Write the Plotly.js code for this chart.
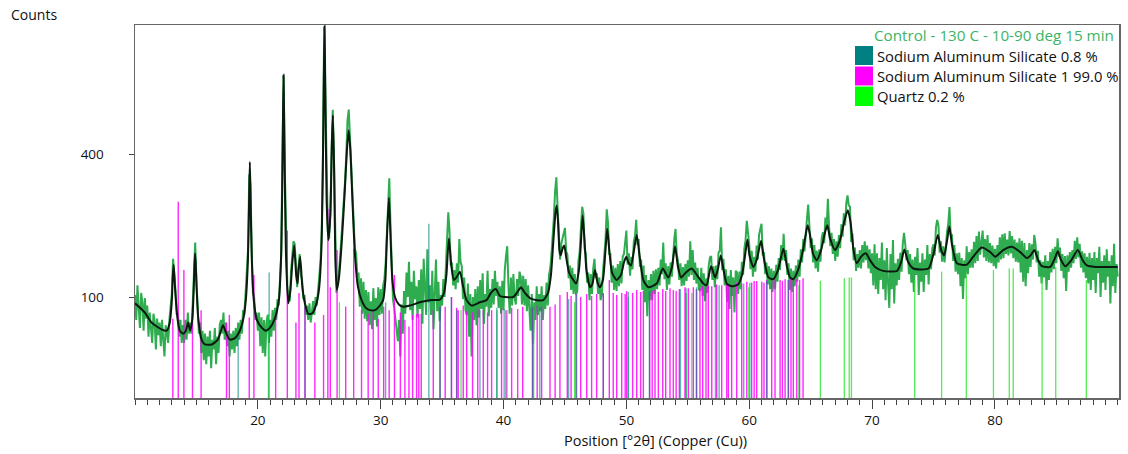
<!DOCTYPE html>
<html><head><meta charset="utf-8">
<script src="https://cdn.plot.ly/plotly-3.0.1.min.js"></script>
<style>html,body{margin:0;padding:0;background:#fff}#chart{width:1128px;height:454px}</style>
</head><body><div id="chart"></div>
<script>
// Observed scan: counts sampled every 0.1 deg from 10.0 to 90.0 deg 2theta
const obsStart = 10.0;
const obsStep = 0.1;
const obsCounts = [
102,80,112,86,74,104,95,72,99,81,
92,68,86,74,64,85,79,60,81,69,
78,62,80,66,56,76,70,64,80,92,
104,145,128,106,84,86,68,80,64,76,
64,80,66,86,70,78,70,92,124,170,
118,94,70,78,58,72,54,70,52,68,
56,72,50,66,60,74,52,68,58,76,
80,70,86,66,78,62,72,56,70,60,
72,58,74,62,78,66,80,70,88,84,
104,120,158,330,300,160,104,100,80,86,
72,86,62,82,58,80,56,78,84,64,
80,68,88,72,90,80,98,92,122,150,
400,860,340,160,112,100,96,128,150,172,
168,134,110,132,152,124,118,98,102,84,
92,80,94,78,90,96,84,100,92,110,
120,142,190,400,1380,640,270,188,176,232,
400,620,380,160,104,118,126,148,176,214,
260,310,400,560,620,470,350,270,200,160,
153,122,127,91,120,85,116,81,107,79,
105,76,96,73,109,80,99,75,110,84,
108,85,112,119,139,186,260,318,200,142,
98,90,82,74,65,80,56,93,70,106,
85,127,100,141,88,116,80,129,98,111,
82,118,89,131,77,145,100,84,159,95,
112,84,129,73,103,144,87,116,79,102,
92,119,100,135,156,228,191,136,140,112,
130,108,139,115,176,141,135,98,121,88,
84,114,68,103,56,100,80,108,76,111,
82,118,89,126,77,103,91,129,83,108,
90,119,93,129,101,116,90,111,85,117,
88,130,149,164,112,85,121,92,125,99,
93,119,101,128,122,93,123,92,119,87,
112,85,72,103,63,95,80,111,84,103,
87,111,80,102,89,115,92,124,132,151,
176,219,282,321,240,186,144,168,176,188,
196,156,151,120,136,107,133,103,125,102,
106,143,155,197,241,226,160,152,115,127,
97,125,103,132,145,120,126,103,121,97,
102,129,148,174,235,208,152,152,115,136,
107,133,106,138,111,142,114,148,152,167,
191,137,153,123,148,131,171,182,212,166,
176,134,144,107,136,95,124,83,118,97,
125,97,129,103,131,108,133,112,144,125,
170,119,139,107,135,113,140,122,158,176,
194,152,142,118,139,111,134,112,138,117,
143,122,172,124,158,118,140,114,133,108,
106,133,101,126,96,120,104,135,147,149,
118,135,110,136,119,154,157,197,130,145,
112,131,95,123,89,130,101,121,86,129,
127,103,128,108,141,124,160,174,210,182,
167,131,157,122,148,128,165,144,183,194,
204,150,155,125,140,113,135,108,132,105,
129,108,137,116,146,130,166,143,185,142,
158,124,139,107,132,105,129,111,136,116,
144,122,159,140,176,156,195,215,246,204,
161,177,140,166,132,157,128,159,141,178,
188,169,217,193,260,198,164,187,152,176,
142,172,148,183,161,203,180,226,201,249,
269,244,241,171,186,143,162,129,152,133,
158,132,166,140,172,143,165,132,159,126,
153,112,167,108,153,103,146,118,170,108,
143,97,161,115,90,152,108,174,94,139,
112,145,118,154,128,168,187,167,143,158,
125,152,115,144,105,148,124,161,102,140,
116,153,105,144,124,166,113,152,131,161,
167,150,197,212,201,154,172,141,164,140,
170,188,204,240,182,184,142,166,128,153,
125,154,111,146,98,143,120,164,125,155,
133,159,133,171,139,181,142,189,151,178,
191,147,176,142,183,140,169,139,165,135,
160,132,166,140,179,144,184,146,186,152,
175,150,190,153,181,146,175,141,170,140,
177,127,173,116,169,111,158,126,169,134,
167,144,183,169,140,157,122,143,114,141,
121,150,107,142,118,155,127,160,131,163,
139,177,148,162,129,152,120,149,106,150,
128,155,133,158,139,173,145,179,147,168,
133,156,127,153,120,148,114,154,107,146,
118,155,104,146,126,163,100,142,115,150,
107,159,122,142,94,150,111,168,104,138,
122
];

// Calculated (fitted) profile
const fitAngle = [10.00,10.80,11.34,12.16,12.57,12.83,13.00,13.07,13.14,13.21,13.27,13.46,13.65,13.92,14.14,14.32,14.49,14.67,14.79,14.84,14.89,14.95,15.01,15.15,15.42,15.68,16.25,16.74,16.99,17.17,17.39,17.72,18.13,18.53,18.82,19.02,19.19,19.29,19.35,19.41,19.51,19.67,19.92,20.33,20.65,20.98,21.38,21.71,21.91,22.02,22.09,22.17,22.28,22.47,22.65,22.81,22.96,23.12,23.23,23.30,23.44,23.62,23.83,24.10,24.40,24.72,24.97,25.17,25.29,25.37,25.43,25.50,25.60,25.74,25.90,26.03,26.11,26.21,26.31,26.43,26.60,26.84,27.08,27.25,27.39,27.53,27.70,27.90,28.14,28.44,28.79,29.12,29.53,29.93,30.20,30.38,30.50,30.67,30.81,30.95,31.16,31.48,31.83,32.38,33.19,34.00,34.82,35.15,35.35,35.55,35.76,35.96,36.21,36.45,36.69,36.99,37.40,38.08,38.62,38.97,39.36,39.71,40.11,40.79,41.13,41.42,41.74,42.15,42.72,43.23,43.62,43.86,44.06,44.23,44.32,44.43,44.55,44.65,44.80,44.94,45.12,45.33,45.55,45.90,46.14,46.31,46.44,46.59,46.75,47.04,47.24,47.44,47.65,47.85,48.09,48.30,48.44,48.61,48.83,49.21,49.56,49.80,49.99,50.17,50.37,50.62,50.84,51.07,51.38,51.78,52.47,52.96,53.41,53.71,53.96,54.20,54.45,54.85,55.32,55.83,56.26,56.52,56.89,57.22,57.46,57.68,57.91,58.17,58.58,59.09,59.41,59.66,59.85,60.02,60.33,60.63,60.96,61.20,61.56,61.96,62.34,62.78,63.08,63.32,63.59,63.97,64.38,64.63,64.76,64.95,65.20,65.50,65.85,66.17,66.36,66.58,66.99,67.39,67.72,68.02,68.25,68.49,68.75,69.10,69.49,69.84,70.24,70.90,72.04,72.37,72.63,72.93,73.36,74.59,74.97,75.35,75.62,75.86,76.11,76.29,76.51,76.90,77.71,78.23,78.93,79.61,80.02,80.67,81.38,82.05,82.60,82.91,83.22,83.52,83.82,84.50,84.86,85.12,85.39,85.72,86.21,86.75,87.14,87.49,88.16,90.00];
const fitCounts = [94,86,78,73,72,78,97,120,137,122,107,81,72,70,72,78,72,81,111,135,153,135,111,81,66,63,63,66,72,76,71,66,67,72,81,97,143,256,372,256,143,97,80,74,72,74,81,97,158,417,870,417,158,94,107,140,165,124,114,128,148,111,94,85,85,92,107,158,344,826,1400,680,256,174,220,460,587,344,143,107,120,174,283,417,507,417,256,152,111,97,90,88,88,92,97,118,174,263,174,118,100,93,91,92,95,97,97.5,104,124,177,134,118,122,128,112,97,92,95,97,104,108,101,100,100,105,110,104,99,97,97,104,124,174,228,244,211,158,150,160,165,145,127,121,114,130,174,221,174,130,110,114,130,115,110,118,158,195,158,127,118,124,140,148,140,136,158,183,150,118,110,114,132,121,134,164,134,121,127,132,122,114,112,135,121,132,150,130,114,111,113,124,150,175,150,134,145,173,145,121,119,130,160,134,121,119,130,158,188,201,183,152,143,158,188,201,177,158,174,207,233,207,158,139,148,153,143,134,129,129,141,159,141,132,132,150,183,158,150,174,199,166,139,137,148,162,155,148,158,163,155,146,150,158,143,135,134,145,156,143,135,143,158,143,136,134,134];

// Reference patterns (stick positions, deg 2theta, and displayed heights, counts)
const sasPos = [18.40,20.92,23.85,30.40,33.92,34.85,35.75,36.20,38.08,39.45,40.05,42.35,42.95,45.30,45.95,48.12,50.16,51.87,54.40,54.85,55.72,57.25,57.55,59.55,60.05,61.43,63.20];
const sasInt = [68,127,91,95,204,90,100,88,88,90,89,90,91,98,102,104,105,106,108,109,110,112,112,114,115,117,118];

const sas1Pos = [13.08,13.52,13.98,14.68,15.38,17.45,17.68,19.30,19.68,21.45,22.40,23.10,23.35,23.83,24.64,25.35,25.70,25.90,26.45,27.15,27.80,28.44,28.98,29.39,29.80,30.24,30.69,31.12,31.60,31.97,32.30,32.60,32.92,33.10,33.30,34.28,34.82,35.25,35.77,36.18,36.31,36.72,37.00,37.48,37.90,38.35,38.70,39.03,39.84,40.20,40.66,41.15,41.56,42.37,42.74,43.10,43.78,44.20,44.59,45.19,45.50,45.90,46.28,46.77,47.17,47.58,48.12,48.61,48.93,49.21,49.62,49.90,50.02,50.51,50.84,51.16,51.38,51.90,52.10,52.33,52.60,52.96,53.20,53.55,53.82,54.05,54.31,54.77,55.04,55.45,55.70,55.99,56.21,56.48,56.67,56.95,57.35,57.76,58.17,58.30,58.57,58.98,59.39,59.80,60.20,60.40,60.61,61.02,61.20,61.43,61.83,62.10,62.51,62.70,62.92,63.18,63.40,63.59,63.87,64.10,64.38];
const sas1Int = [81,253,130,91,88,78,84,82,124,85,191,78,104,91,78,84,236,110,158,91,160,88,85,88,81,91,88,124,86,80,75,84,85,85,85,88,91,91,100,90,88,92,87,86,89,88,86,88,90,88,90,89,91,90,92,91,91,93,102,105,101,103,100,103,101,103,104,118,104,102,104,103,106,104,107,105,106,104,106,107,105,108,106,109,107,106,108,110,109,110,108,109,111,110,112,111,113,112,114,112,113,115,114,116,115,117,117,116,115,118,117,119,118,117,119,118,120,120,119,118,120];

const qzPos = [20.86,26.64,36.54,39.47,40.29,42.45,45.79,50.14,54.87,55.33,59.96,64.04,65.79,67.74,68.14,68.32,73.47,75.66,77.67,79.88,81.17,81.49,83.84,84.95,87.44];
const qzInt = [85,95,88,88,88,88,95,100,104,104,110,112,117,120,121,121,118,128,124,130,132,132,122,134,118];

const STICK_BASE = 30;
function sticks(pos, inten) {
  const x = [], y = [];
  pos.forEach((p, i) => { x.push(p, p, null); y.push(STICK_BASE, inten[i], null); });
  return {x, y};
}
const obsAngle = obsCounts.map((_, i) => +(obsStart + i * obsStep).toFixed(2));

const sSas = sticks(sasPos, sasInt);
const sSas1 = sticks(sas1Pos, sas1Int);
const sQz = sticks(qzPos, qzInt);

const traces = [
  {x: obsAngle, y: obsCounts, type: 'scatter', mode: 'lines', line: {color: 'rgb(48,172,80)', width: 2}, hoverinfo: 'skip'},
  {x: sQz.x, y: sQz.y, type: 'scatter', mode: 'lines', line: {color: 'rgba(40,230,40,0.8)', width: 1.3}, hoverinfo: 'skip'},
  {x: sSas1.x, y: sSas1.y, type: 'scatter', mode: 'lines', line: {color: 'rgba(255,0,255,0.85)', width: 1.4}, hoverinfo: 'skip'},
  {x: sSas.x, y: sSas.y, type: 'scatter', mode: 'lines', line: {color: 'rgba(0,128,128,0.6)', width: 1.4}, hoverinfo: 'skip'},
  {x: fitAngle, y: fitCounts, type: 'scatter', mode: 'lines', line: {color: '#0b1a0e', width: 2, shape: 'spline', smoothing: 0.6}, hoverinfo: 'skip'}
];

const FONT = '"Open Sans", "Noto Sans", "DejaVu Sans", sans-serif';
const legendItems = [
  {name: 'Sodium Aluminum Silicate 0.8 %', color: 'rgb(0,128,128)', yTop: 46, yBot: 65},
  {name: 'Sodium Aluminum Silicate 1 99.0 %', color: '#ff00ff', yTop: 66.5, yBot: 85.5},
  {name: 'Quartz 0.2 %', color: '#00ff00', yTop: 86.5, yBot: 106}
];
// plot area in pixels: x 135..1119, y 25..398
const PX = x => (x - 135) / 984;
const PY = y => (398 - y) / 373;

const shapes = legendItems.map(it => ({type: 'rect', xref: 'paper', yref: 'paper', x0: PX(855), x1: PX(873), y0: PY(it.yBot), y1: PY(it.yTop), fillcolor: it.color, line: {width: 0}}));
const annotations = legendItems.map(it => ({xref: 'paper', yref: 'paper', x: PX(875), y: PY((it.yTop + it.yBot) / 2), xanchor: 'left', yanchor: 'middle', text: it.name, showarrow: false, font: {family: FONT, size: 14.8, color: '#111'}}));
annotations.push({xref: 'paper', yref: 'paper', x: PX(872), y: PY(35), xanchor: 'left', yanchor: 'middle', text: 'Control - 130 C - 10-90 deg 15 min', showarrow: false, font: {family: FONT, size: 15.2, color: 'rgb(60,180,100)'}});
annotations.push({xref: 'paper', yref: 'paper', x: PX(9), y: PY(15), xanchor: 'left', yanchor: 'middle', text: 'Counts', showarrow: false, font: {family: FONT, size: 14, color: '#111'}});
annotations.push({xref: 'paper', yref: 'paper', x: PX(655), y: PY(440), xanchor: 'center', yanchor: 'middle', text: 'Position [°2θ] (Copper (Cu))', showarrow: false, font: {family: FONT, size: 14.5, color: '#111'}});

const layout = {
  width: 1128, height: 454,
  margin: {l: 135, r: 9, t: 25, b: 56, pad: 0},
  paper_bgcolor: '#fff', plot_bgcolor: '#fff',
  showlegend: false,
  font: {family: FONT, size: 13, color: '#111'},
  xaxis: {
    range: [10, 90.1], tickmode: 'array', tickvals: [20, 30, 40, 50, 60, 70, 80],
    ticks: 'outside', ticklen: 9, tickwidth: 1, tickcolor: '#444',
    showgrid: false, zeroline: false, showline: true, linecolor: '#666', linewidth: 1.5, mirror: true,
    tickfont: {family: FONT, size: 13.5, color: '#111'},
    minor: {tickmode: 'linear', tick0: 0, dtick: 1, ticks: 'outside', ticklen: 5, tickwidth: 1, tickcolor: '#444', showgrid: false}
  },
  yaxis: {
    type: 'log', range: [Math.log10(37.4), Math.log10(1414)],
    tickmode: 'array', tickvals: [100, 400], ticktext: ['100', '400'],
    ticks: 'outside', ticklen: 5, tickwidth: 1, tickcolor: '#444', ticklabelstandoff: 22,
    showgrid: false, zeroline: false, showline: true, linecolor: '#666', linewidth: 1.5, mirror: true,
    tickfont: {family: FONT, size: 13.5, color: '#111'}
  },
  shapes: shapes,
  annotations: annotations
};
Plotly.newPlot('chart', traces, layout, {displayModeBar: false, staticPlot: true});
</script></body></html>
